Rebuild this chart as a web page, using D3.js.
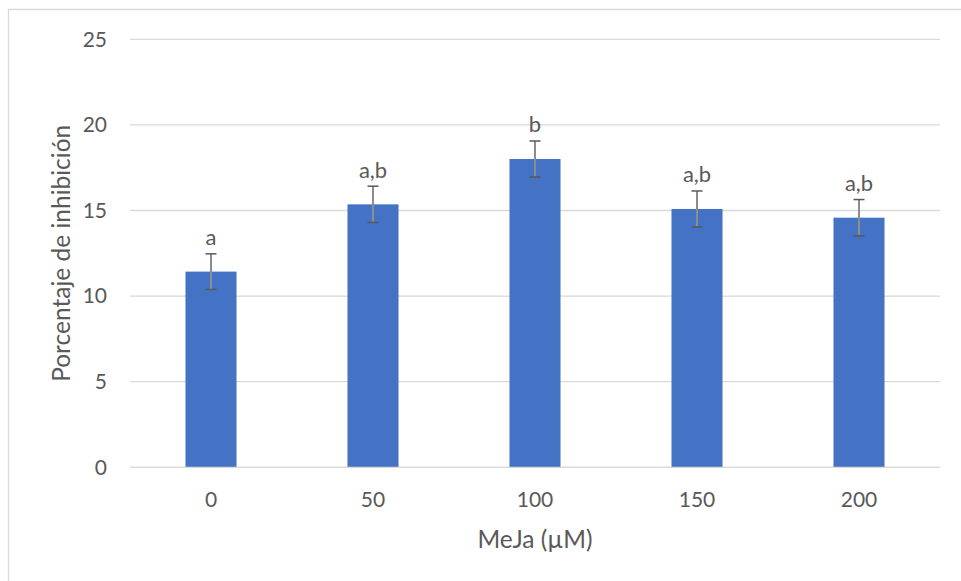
<!DOCTYPE html>
<html>
<head>
<meta charset="utf-8">
<script src="https://cdn.jsdelivr.net/npm/d3@7"></script>
<style>
  html, body { margin: 0; padding: 0; background: #fff; }
  svg { display: block; }
  text { font-family: Lato, "Open Sans", sans-serif; fill: #595959; }
</style>
</head>
<body>
<svg id="chart" width="961" height="581"></svg>
<script>
// MeJa concentrations (µM)
const categories = ["0", "50", "100", "150", "200"];
// Mean inhibition percentage per concentration
const values = [11.43, 15.36, 18.01, 15.09, 14.58];
// Error (± amount) per concentration
const errors = [1.04, 1.06, 1.05, 1.05, 1.06];
// Significance letters above each bar
const letters = ["a", "a,b", "b", "a,b", "a,b"];
// Y axis ticks
const yTicks = [0, 5, 10, 15, 20, 25];

const svg = d3.select("#chart");
const W = 961, H = 581;
const margin = { left: 130, right: 21, top: 39.3, bottom: 113.7 };

// chart area frame (top and left edges show)
svg.append("path")
  .attr("d", `M8.5,${H} V9.5 H${W}`)
  .attr("fill", "none")
  .attr("stroke", "#d9d9d9")
  .attr("stroke-width", 1.3);

const x = d3.scaleBand()
  .domain(categories)
  .range([margin.left, W - margin.right])
  .paddingInner(0.685)
  .paddingOuter(0.3425);

const y = d3.scaleLinear()
  .domain([0, 25])
  .range([H - margin.bottom, margin.top]);

// gridlines
svg.append("g")
  .selectAll("line")
  .data(yTicks)
  .join("line")
  .attr("x1", margin.left)
  .attr("x2", W - margin.right)
  .attr("y1", d => y(d))
  .attr("y2", d => y(d))
  .attr("stroke", "#d9d9d9")
  .attr("stroke-width", 1.3);

// y axis tick labels
const yAxis = svg.append("g")
  .attr("transform", `translate(${margin.left - 23},0)`)
  .call(d3.axisLeft(y).tickValues(yTicks).tickSize(0).tickPadding(0));
yAxis.select(".domain").remove();
yAxis.selectAll("text")
  .style("font-size", "21px")
  .style("font-family", "Lato, 'Open Sans', sans-serif")
  .attr("fill", "#595959");

// x axis tick labels
const xAxis = svg.append("g")
  .attr("transform", `translate(0,${y(0)})`)
  .call(d3.axisBottom(x).tickSize(0).tickPadding(25));
xAxis.select(".domain").remove();
xAxis.selectAll("text")
  .style("font-size", "21px")
  .style("font-family", "Lato, 'Open Sans', sans-serif")
  .attr("fill", "#595959");

// bars
svg.append("g")
  .selectAll("rect")
  .data(values)
  .join("rect")
  .attr("x", (d, i) => x(categories[i]))
  .attr("width", x.bandwidth())
  .attr("y", d => y(d))
  .attr("height", d => y(0) - y(d))
  .attr("fill", "#4472c4");

// baseline axis line
svg.append("line")
  .attr("x1", margin.left)
  .attr("x2", W - margin.right)
  .attr("y1", y(0))
  .attr("y2", y(0))
  .attr("stroke", "#d9d9d9")
  .attr("stroke-width", 1.3);

// error bars
const eb = svg.append("g")
  .attr("stroke", "#595959")
  .attr("stroke-width", 1.5)
  .attr("fill", "none");
values.forEach((v, i) => {
  const cx = x(categories[i]) + x.bandwidth() / 2;
  const top = y(v + errors[i]);
  const bot = y(v - errors[i]);
  eb.append("line").attr("x1", cx).attr("x2", cx).attr("y1", top).attr("y2", bot).attr("stroke", "#8c8c8c").attr("stroke-width", 2);
  eb.append("line").attr("x1", cx - 5.5).attr("x2", cx + 5.5).attr("y1", top).attr("y2", top);
  eb.append("line").attr("x1", cx - 5.5).attr("x2", cx + 5.5).attr("y1", bot).attr("y2", bot);
});

// significance letters
svg.append("g")
  .selectAll("text")
  .data(letters)
  .join("text")
  .attr("x", (d, i) => x(categories[i]) + x.bandwidth() / 2)
  .attr("y", (d, i) => y(values[i] + errors[i]) - 8.5)
  .attr("text-anchor", "middle")
  .style("font-size", "22px")
  .attr("fill", "#404040")
  .text(d => d);

// axis titles
svg.append("text")
  .attr("x", (margin.left + W - margin.right) / 2)
  .attr("y", 548)
  .attr("text-anchor", "middle")
  .style("font-size", "24.5px")
  .text("MeJa (µM)");

svg.append("text")
  .attr("transform", `translate(69.5,${(y(0) + y(25)) / 2}) rotate(-90)`)
  .attr("text-anchor", "middle")
  .style("font-size", "24.5px")
  .text("Porcentaje de inhibición");
</script>
</body>
</html>
